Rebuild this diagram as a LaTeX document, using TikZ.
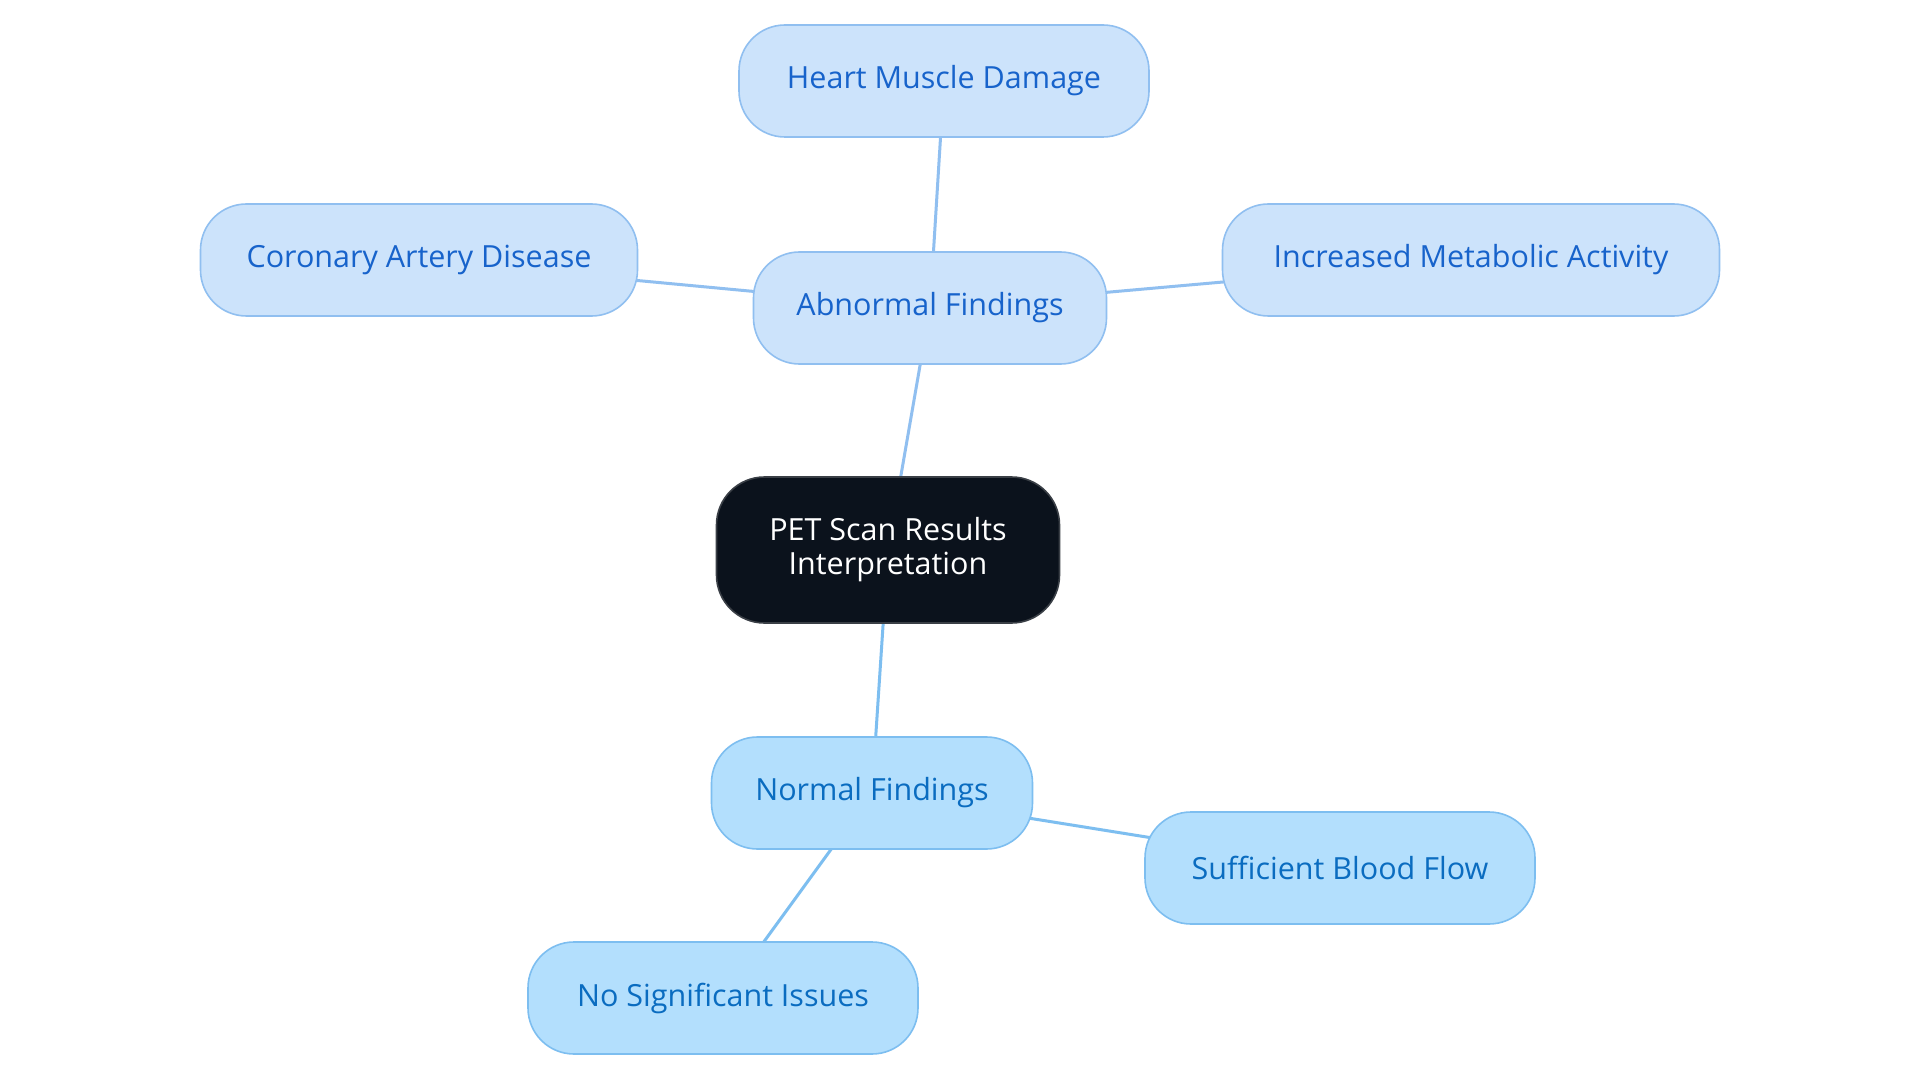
\documentclass[tikz,border=0pt]{standalone}
\usepackage{fontspec}
\setmainfont{Open Sans}
\definecolor{abfill}{HTML}{CCE3FB}
\definecolor{abdraw}{HTML}{90BFF0}
\definecolor{abtext}{HTML}{1763CB}
\definecolor{nofill}{HTML}{B3DFFD}
\definecolor{nodraw}{HTML}{7DBEF0}
\definecolor{notext}{HTML}{0A6CC0}
\definecolor{cfill}{HTML}{0B121C}
\definecolor{cdraw}{HTML}{3A3F46}
\begin{document}
\begin{tikzpicture}[x=1pt,y=-1pt,
  base/.style={rounded corners=46pt, minimum height=112pt, inner sep=0pt, align=center,
    font=\fontsize{30.5pt}{34pt}\selectfont, line width=1.6pt},
  abbox/.style={base, fill=abfill, draw=abdraw, text=abtext},
  nobox/.style={base, fill=nofill, draw=nodraw, text=notext},
  centerbox/.style={base, fill=cfill, draw=cdraw, text=white, minimum height=146pt, rounded corners=48pt},
  ablink/.style={draw=abdraw, line width=3pt},
  nolink/.style={draw=nodraw, line width=3pt}]
\useasboundingbox (0,0) rectangle (1920,1083);
\fill[white] (0,0) rectangle (1920,1083);
% node centres
\coordinate (cC) at (888,550);
\coordinate (cAb) at (930,308);
\coordinate (cHe) at (944,81);
\coordinate (cCo) at (419,260);
\coordinate (cIn) at (1471,260);
\coordinate (cNo) at (872,793);
\coordinate (cSu) at (1340,868);
\coordinate (cNs) at (723,998);
% connectors (behind nodes)
\draw[ablink] (cC) -- (cAb);
\draw[ablink] (cAb) -- (cHe);
\draw[ablink] (cAb) -- (cCo);
\draw[ablink] (cAb) -- (cIn);
\draw[nolink] (cC) -- (cNo);
\draw[nolink] (cNo) -- (cSu);
\draw[nolink] (cNo) -- (cNs);
% nodes
\node[centerbox, minimum width=343pt] (c) at (cC) {PET Scan Results\\Interpretation};
\node[abbox, minimum width=353pt] (ab) at (cAb) {Abnormal Findings};
\node[abbox, minimum width=410pt] (he) at (cHe) {Heart Muscle Damage};
\node[abbox, minimum width=437pt] (co) at (cCo) {Coronary Artery Disease};
\node[abbox, minimum width=497pt] (in) at (cIn) {Increased Metabolic Activity};
\node[nobox, minimum width=321pt] (no) at (cNo) {Normal Findings};
\node[nobox, minimum width=390pt] (su) at (cSu) {Sufficient Blood Flow};
\node[nobox, minimum width=390pt] (ns) at (cNs) {No Significant Issues};
\end{tikzpicture}
\end{document}
